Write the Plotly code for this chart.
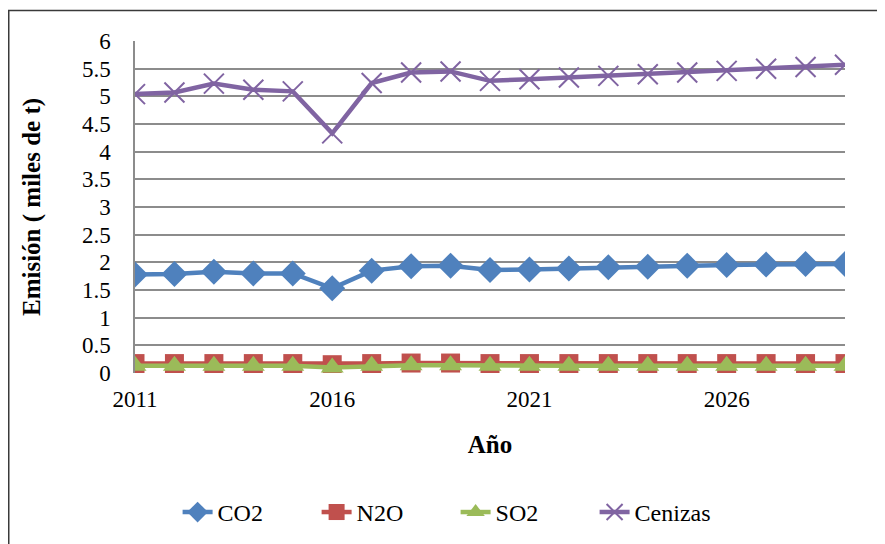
import plotly.graph_objects as go

years = list(range(2011, 2030))
co2 = [1.78, 1.79, 1.83, 1.80, 1.80, 1.53, 1.85, 1.93, 1.94, 1.86, 1.87, 1.89, 1.91, 1.92, 1.94, 1.95, 1.96, 1.97, 1.97]
n2o = [0.17, 0.17, 0.17, 0.17, 0.17, 0.15, 0.17, 0.18, 0.18, 0.17, 0.17, 0.17, 0.17, 0.17, 0.17, 0.17, 0.17, 0.17, 0.17]
so2 = [0.13, 0.13, 0.13, 0.13, 0.13, 0.10, 0.13, 0.14, 0.14, 0.13, 0.13, 0.13, 0.13, 0.13, 0.13, 0.13, 0.13, 0.13, 0.13]
cenizas = [5.04, 5.07, 5.23, 5.12, 5.09, 4.33, 5.24, 5.43, 5.45, 5.28, 5.31, 5.34, 5.37, 5.40, 5.43, 5.46, 5.50, 5.53, 5.57]

x_ticks = [2011, 2016, 2021, 2026]
y_ticks = [0, 0.5, 1, 1.5, 2, 2.5, 3, 3.5, 4, 4.5, 5, 5.5, 6]
y_tick_text = ["0", "0.5", "1", "1.5", "2", "2.5", "3", "3.5", "4", "4.5", "5", "5.5", "6"]

FONT = "'Liberation Serif', 'DejaVu Serif', serif"

fig = go.Figure()
fig.add_trace(go.Scatter(x=years, y=co2, name="CO2", mode="lines+markers",
                         line=dict(color="#4F81BD", width=4.5),
                         marker=dict(symbol="diamond", size=20, color="#4F81BD")))
fig.add_trace(go.Scatter(x=years, y=n2o, name="N2O", mode="lines+markers",
                         line=dict(color="#C0504D", width=4.5),
                         marker=dict(symbol="square", size=19, color="#C0504D")))
fig.add_trace(go.Scatter(x=years, y=so2, name="SO2", mode="lines+markers",
                         line=dict(color="#9BBB59", width=4.5),
                         marker=dict(symbol="triangle-up", size=20, color="#9BBB59")))
fig.add_trace(go.Scatter(x=years, y=cenizas, name="Cenizas", mode="lines+markers",
                         line=dict(color="#8064A2", width=4.5),
                         marker=dict(symbol="x-thin", size=20, color="#8064A2",
                                     line=dict(color="#8064A2", width=2))))

# figure is placed 8px in from the page corner, so the layout is shifted accordingly
PL, PT, PW, PH = 127, 33, 710, 332

fig.update_layout(
    width=877, height=536,
    margin=dict(l=PL, r=40, t=PT, b=171, autoexpand=False),
    paper_bgcolor="white", plot_bgcolor="white",
    font=dict(family=FONT, size=23, color="black"),
    showlegend=True,
    legend=dict(orientation="h", x=0.06, xanchor="left", y=-0.42, yanchor="middle",
                font=dict(family=FONT, size=24, color="black"),
                itemwidth=30, entrywidth=94, traceorder="normal"),
    xaxis=dict(range=[2011, 2029], tickmode="array", tickvals=x_ticks, automargin=False,
               ticktext=[str(v) for v in x_ticks], showgrid=False, zeroline=False,
               showline=False, ticks="", ticklabelstandoff=10,
               tickfont=dict(family=FONT, size=23, color="black"),
               title=dict(text="<b>Año</b>", standoff=24,
                          font=dict(family=FONT, size=25, color="black"))),
    yaxis=dict(range=[0, 6], tickmode="array", tickvals=y_ticks, ticktext=y_tick_text,
               automargin=False,
               showgrid=True, gridcolor="#8C8C8C", gridwidth=1.5, zeroline=False,
               showline=True, linecolor="#8C8C8C", linewidth=1.5, ticks="",
               ticklabelstandoff=18,
               tickfont=dict(family=FONT, size=23, color="black"),
               title=dict(text="<b>Emisión ( miles de t)</b>", standoff=34,
                          font=dict(family=FONT, size=25, color="black"))),
    shapes=[
        dict(type="rect", xref="paper", yref="paper",
             x0=(0.75 - PL) / PW, x1=1.3, y0=-0.6, y1=(PH + PT - 2.5) / PH,
             fillcolor="rgba(0,0,0,0)", line=dict(color="#3A3A3A", width=1.5)),
    ],
)

fig.write_html("out.html")
